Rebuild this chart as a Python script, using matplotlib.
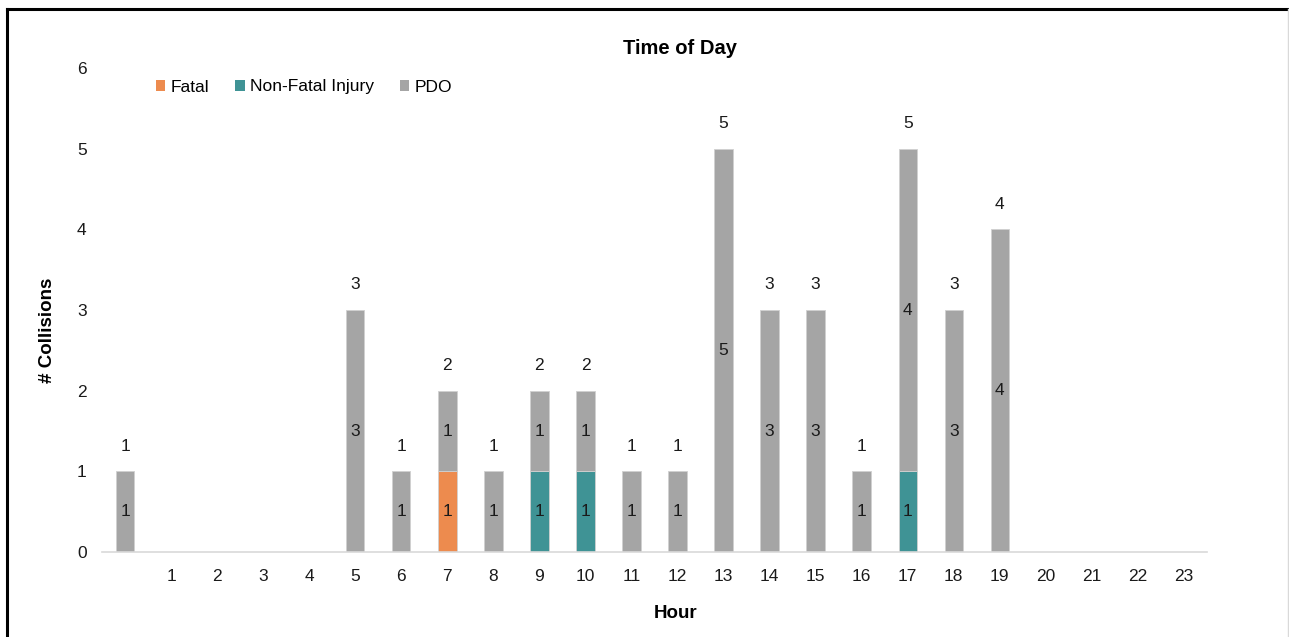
import numpy as np
import matplotlib.pyplot as plt
from matplotlib.patches import Patch
from matplotlib.lines import Line2D

plt.rcParams['font.family'] = ['Liberation Sans', 'DejaVu Sans']

# ---- data ----
hours = list(range(24))
hour_labels = [''] + [str(h) for h in range(1, 24)]
fatal = [0, 0, 0, 0, 0, 0, 0, 1, 0, 0, 0, 0, 0, 0, 0, 0, 0, 0, 0, 0, 0, 0, 0, 0]
non_fatal = [0, 0, 0, 0, 0, 0, 0, 0, 0, 1, 1, 0, 0, 0, 0, 0, 0, 1, 0, 0, 0, 0, 0, 0]
pdo = [1, 0, 0, 0, 0, 3, 1, 1, 1, 1, 1, 1, 1, 5, 3, 3, 1, 4, 3, 4, 0, 0, 0, 0]

series = [('Fatal', fatal, '#ED8B4E'),
          ('Non-Fatal Injury', non_fatal, '#3F9395'),
          ('PDO', pdo, '#A5A5A5')]

FS = 12.5

W, H = 1289, 637
fig = plt.figure(figsize=(W / 100, H / 100), dpi=100)
ax = fig.add_axes([102 / W, 1 - 552 / H, (1207 - 102) / W, (552 - 68) / H])

x = np.arange(len(hours))
bottom = np.zeros(len(hours))
for name, vals, color in series:
    vals = np.array(vals, dtype=float)
    ax.bar(x, vals, 0.4, bottom=bottom, color=color, edgecolor='#D0D0D0',
           linewidth=0.6, label=name)
    for xi, v, b in zip(x, vals, bottom):
        if v > 0:
            ax.text(xi, b + v / 2, f'{int(v)}', ha='center', va='center',
                    fontsize=FS, color='#1a1a1a')
    bottom += vals

for xi, t in zip(x, bottom):
    if t > 0:
        ax.text(xi, t + 0.31, f'{int(t)}', ha='center', va='center',
                fontsize=FS, color='#1a1a1a')

ax.set_xlim(-0.5, 23.5)
ax.set_ylim(0, 6)
ax.set_yticks(range(7))
ax.set_xticks(x)
ax.set_xticklabels(hour_labels)
ax.tick_params(axis='both', length=0, labelsize=FS, colors='#1a1a1a')
ax.tick_params(axis='y', pad=11)
ax.tick_params(axis='x', pad=12)

for s in ['top', 'right', 'left']:
    ax.spines[s].set_visible(False)
ax.spines['bottom'].set_color('#D9D9D9')
ax.spines['bottom'].set_linewidth(1.2)

fig.text(680 / W, 1 - 48 / H, 'Time of Day', ha='center', va='center',
         fontsize=14.5, fontweight='bold')
fig.text(676 / W, 1 - 614 / H, 'Hour', ha='center', va='center',
         fontsize=13.5, fontweight='bold')
fig.text(48 / W, 1 - 330 / H, '# Collisions', ha='center', va='center',
         rotation=90, fontsize=13.5, fontweight='bold')

handles = [Patch(facecolor=c, edgecolor='none') for _, _, c in series]
fig.legend(handles, [n for n, _, _ in series], loc='center left',
           bbox_to_anchor=(140 / W, 1 - 87 / H), ncol=3, frameon=False,
           fontsize=FS, handlelength=0.55, handleheight=0.55,
           handletextpad=0.3, columnspacing=1.5)

# outer frame
fig.add_artist(Line2D([7 / W, 7 / W], [0, 1 - 9 / H], color='black', lw=2.2))
fig.add_artist(Line2D([7 / W, 1288 / W], [1 - 9 / H, 1 - 9 / H], color='black', lw=2.2))
fig.add_artist(Line2D([1288 / W, 1288 / W], [0, 1 - 9 / H], color='#D9D9D9', lw=1))

fig.savefig('out.png', dpi=100)
